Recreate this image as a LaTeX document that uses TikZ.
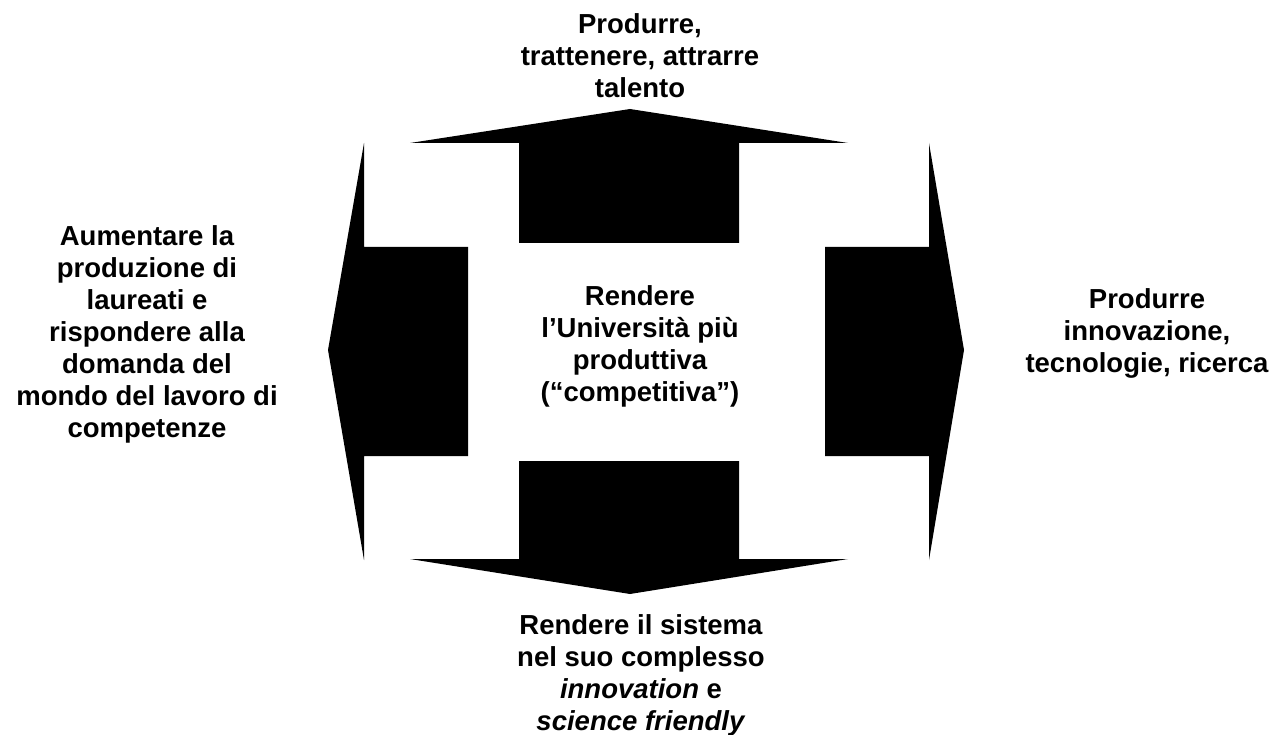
\documentclass[tikz,border=0pt]{standalone}
\usepackage{fontspec}
\setmainfont{Liberation Sans}
\usepackage{tikz}

\tikzset{
  blockarrow/.style={fill=black, draw=none},
  goaltext/.style={align=center, inner sep=0pt, font=\fontsize{27.5}{32}\selectfont\bfseries}
}

\begin{document}
\begin{tikzpicture}[x=1pt,y=1pt,yscale=-1,xscale=1]
%set diagram to the size of the page
\useasboundingbox (0,0) rectangle (1283,735);

%Shape: Up Arrow [id:top]
\fill[blockarrow] (519,243) -- (519,143) -- (410,143) -- (630,109) -- (848,143) -- (739,143) -- (739,243) -- cycle ;
%Shape: Down Arrow [id:bottom]
\fill[blockarrow] (519,461) -- (519,559) -- (410,559) -- (630,594) -- (848,559) -- (739,559) -- (739,461) -- cycle ;
%Shape: Left Arrow [id:left]
\fill[blockarrow] (468,247) -- (364,247) -- (364,143) -- (328,350) -- (364,560) -- (364,456) -- (468,456) -- cycle ;
%Shape: Right Arrow [id:right]
\fill[blockarrow] (825,247) -- (929,247) -- (929,143) -- (964,350) -- (929,560) -- (929,456) -- (825,456) -- cycle ;

% Text Node
\node[goaltext] (talent) at (640,56) {Produrre,\\trattenere, attrarre\\talento};
% Text Node
\node[goaltext] (graduates) at (147,334) {Aumentare la\\produzione di\\laureati e\\rispondere alla\\domanda del\\mondo del lavoro di\\competenze};
% Text Node
\node[goaltext] (innovation) at (1147,333) {Produrre\\innovazione,\\tecnologie, ricerca};
% Text Node
\node[goaltext] (university) at (640,346) {Rendere\\l’Università più\\produttiva\\(“competitiva”)};
% Text Node
\node[goaltext] (system) at (641,675) {Rendere il sistema\\nel suo complesso\\\textit{innovation} e\\\textit{science friendly}};

\end{tikzpicture}
\end{document}
